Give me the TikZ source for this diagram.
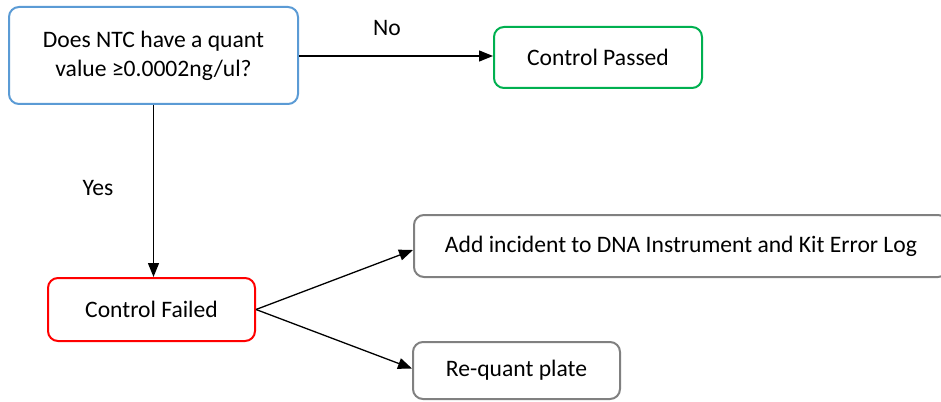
\documentclass[tikz,border=0pt]{standalone}
\usepackage{fontspec}
\setmainfont{Carlito}
\usetikzlibrary{arrows.meta}
\definecolor{qblue}{HTML}{5B9BD5}
\definecolor{okgreen}{HTML}{00B050}
\definecolor{badred}{HTML}{FF0000}
\definecolor{actgray}{HTML}{808080}
\tikzset{
  box/.style={draw, line width=1pt, rounded corners=5pt, fill=white,
    align=center, inner sep=0pt,
    font=\fontsize{11.8}{14.5}\selectfont},
  flow/.style={line width=0.65pt, -{Triangle[length=7pt,width=5.5pt]}},
  lbl/.style={font=\fontsize{11.8}{14.5}\selectfont, inner sep=0pt}
}
\begin{document}
\begin{tikzpicture}[x=0.5pt,y=-0.5pt]
  \useasboundingbox (0,0) rectangle (941,401);
  \clip (0,0) rectangle (941,401);
  % decision and outcome boxes
  \node[box, draw=qblue, minimum width=144.5pt, minimum height=48.5pt] (q) at (153.5,55.5)
    {Does NTC have a quant\\value ≥0.0002ng/ul?};
  \node[box, draw=okgreen, minimum width=104pt, minimum height=30.5pt] (pass) at (598,57.5)
    {Control Passed};
  \node[box, draw=badred, minimum width=103.5pt, minimum height=31.5pt] (fail) at (151.5,309.5)
    {Control Failed};
  % follow-up actions
  \node[box, draw=actgray, minimum width=267pt, minimum height=31pt] (log) at (681,246)
    {Add incident to DNA Instrument and Kit Error Log};
  \node[box, draw=actgray, minimum width=103.5pt, minimum height=28.5pt] (requant) at (516.5,370.5)
    {Re-quant plate};
  % connectors
  \draw[flow] (q.east |- 0,56) -- (pass.west |- 0,56);
  \draw[flow] (q.south) -- (q.south |- fail.north);
  \draw[flow] (fail.east) -- ([yshift=-2pt]log.west);
  \draw[flow] (fail.east) -- ([yshift=1pt]requant.west);
  % branch labels
  \node[lbl] (no) at (387,28) {No};
  \node[lbl] (yes) at (98,188) {Yes};
\end{tikzpicture}
\end{document}
